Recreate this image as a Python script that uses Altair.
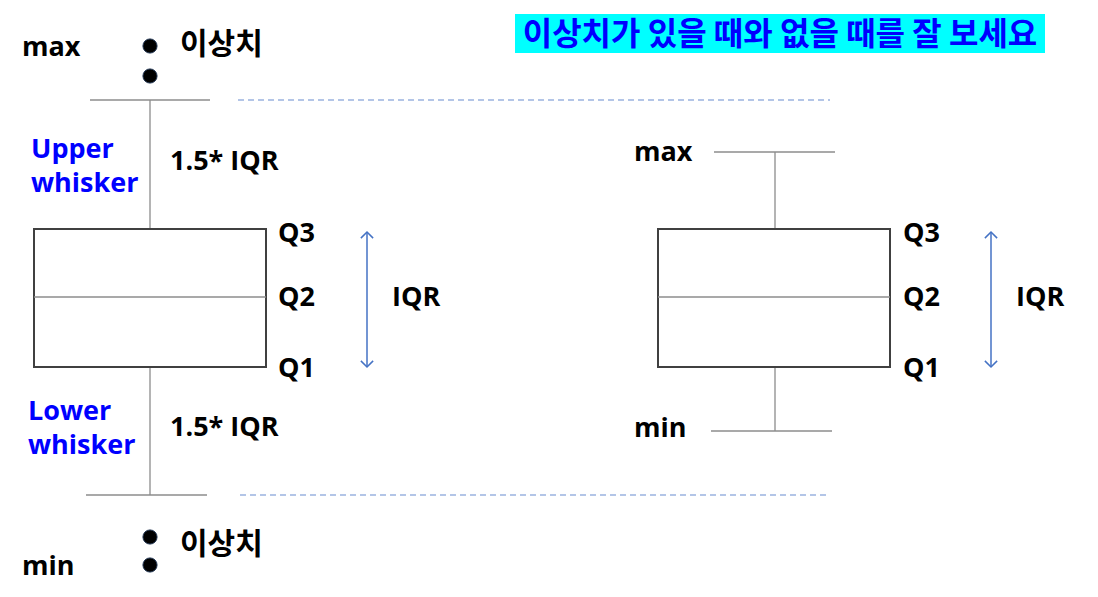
import altair as alt
import pandas as pd

W, H = 1082, 581
XD = [8, 1090]
YD = [8, 589]

# ---- boxes (left: with outliers, right: without outliers) ----
box_left = [34, 658]
box_right = [266, 890]
q1 = [367, 367]
q2 = [297, 297]
q3 = [229, 229]
whisker_x = [150, 775]
upper_end = [100, 152]
lower_end = [495, 431]
upper_cap_l = [90, 714]
upper_cap_r = [210, 835]
lower_cap_l = [86, 711]
lower_cap_r = [207, 832]

# ---- outliers ----
outlier_x = [150, 150, 150, 150]
outlier_y = [46, 76, 537, 565]

# ---- dashed guide lines ----
dash_y = [100, 495]
dash_x1 = [238, 240]
dash_x2 = [830, 830]

# ---- IQR arrows ----
arrow_x = [367, 991]
arrow_top = [232, 232]
arrow_bottom = [367, 367]

# ---- title box ----
title_text = ["이상치가 있을 때와 없을 때를 잘 보세요"]
title_x1, title_x2, title_y1, title_y2 = [515], [1045], [14], [53]

# ---- labels ----
black_labels = ["max", "1.5* IQR", "Q3", "Q2", "Q1", "IQR", "1.5* IQR", "min",
                "max", "Q3", "Q2", "Q1", "IQR", "min"]
black_x = [22, 170, 278, 278, 278, 392, 170, 22,
           634, 903, 903, 903, 1016, 634]
black_y = [48, 162, 234, 298, 369, 298, 428, 567,
           153, 234, 298, 369, 298, 429]
blue_labels = ["Upper", "whisker", "Lower", "whisker"]
blue_x = [31, 31, 28, 28]
blue_y = [150, 184, 412, 446]
kor_labels = ["이상치", "이상치"]
kor_x = [180, 180]
kor_y = [45, 545]

xs = alt.Scale(domain=XD, nice=False, zero=False)
ys = alt.Scale(domain=YD, nice=False, zero=False, reverse=True)

def X(f):
    return alt.X(f, type="quantitative", scale=xs, axis=None)

def Y(f):
    return alt.Y(f, type="quantitative", scale=ys, axis=None)

boxes = pd.DataFrame({"l": box_left, "r": box_right, "q1": q1, "q3": q3})
box_layer = alt.Chart(boxes).mark_rect(fill="white", stroke="#404040", strokeWidth=2).encode(
    x=X("l"), x2="r", y=Y("q3"), y2="q1")

med = pd.DataFrame({"l": box_left, "r": box_right, "y": q2})
med_layer = alt.Chart(med).mark_rule(color="#8c8c8c", strokeWidth=1.3).encode(
    x=X("l"), x2="r", y=Y("y"))

whisk = pd.DataFrame({
    "x": whisker_x * 2,
    "y1": q3 + q1,
    "y2": upper_end + lower_end,
})
whisk_layer = alt.Chart(whisk).mark_rule(color="#8c8c8c", strokeWidth=1.3).encode(
    x=X("x"), y=Y("y1"), y2="y2")

caps = pd.DataFrame({
    "l": upper_cap_l + lower_cap_l,
    "r": upper_cap_r + lower_cap_r,
    "y": upper_end + lower_end,
})
cap_layer = alt.Chart(caps).mark_rule(color="#8c8c8c", strokeWidth=1.3).encode(
    x=X("l"), x2="r", y=Y("y"))

dashes = pd.DataFrame({"l": dash_x1, "r": dash_x2, "y": dash_y})
dash_layer = alt.Chart(dashes).mark_rule(color="#9bb3df", strokeWidth=1.4, strokeDash=[6, 4]).encode(
    x=X("l"), x2="r", y=Y("y"))

arrows = pd.DataFrame({"x": arrow_x, "t": arrow_top, "b": arrow_bottom})
arrow_line = alt.Chart(arrows).mark_rule(color="#4472c4", strokeWidth=1.5).encode(
    x=X("x"), y=Y("t"), y2="b")
arrow_up = alt.Chart(arrows).mark_point(
    shape="M -1 1 L 0 0 L 1 1", filled=False, color="#4472c4", strokeWidth=1.5,
    size=150, opacity=1).encode(x=X("x"), y=Y("t"))
arrow_down = alt.Chart(arrows).mark_point(
    shape="M -1 -1 L 0 0 L 1 -1", filled=False, color="#4472c4", strokeWidth=1.5,
    size=150, opacity=1).encode(x=X("x"), y=Y("b"))

outl = pd.DataFrame({"x": outlier_x, "y": outlier_y})
out_layer = alt.Chart(outl).mark_circle(color="#000000", size=200, opacity=1,
                                         stroke="#1f3350", strokeWidth=1).encode(
    x=X("x"), y=Y("y"))

tbox = pd.DataFrame({"x1": title_x1, "x2": title_x2, "y1": title_y1, "y2": title_y2})
tbox_layer = alt.Chart(tbox).mark_rect(color="#00ffff").encode(
    x=X("x1"), x2="x2", y=Y("y1"), y2="y2")
ttext = pd.DataFrame({"t": title_text, "x": [(title_x1[0] + title_x2[0]) / 2],
                      "y": [(title_y1[0] + title_y2[0]) / 2 + 1]})
ttext_layer = alt.Chart(ttext).mark_text(
    font="Noto Sans CJK KR", fontSize=32, fontWeight="bold", color="#0000ff",
    align="center", baseline="middle").encode(x=X("x"), y=Y("y"), text="t:N")

blk = pd.DataFrame({"t": black_labels, "x": black_x, "y": black_y})
blk_layer = alt.Chart(blk).mark_text(
    font="Open Sans", fontSize=27, fontWeight="bold", color="#000000",
    align="left", baseline="middle").encode(x=X("x"), y=Y("y"), text="t:N")

blu = pd.DataFrame({"t": blue_labels, "x": blue_x, "y": blue_y})
blu_layer = alt.Chart(blu).mark_text(
    font="Open Sans", fontSize=27, fontWeight="bold", color="#0000ff",
    align="left", baseline="middle").encode(x=X("x"), y=Y("y"), text="t:N")

kor = pd.DataFrame({"t": kor_labels, "x": kor_x, "y": kor_y})
kor_layer = alt.Chart(kor).mark_text(
    font="Noto Sans CJK KR", fontSize=30, fontWeight="bold", color="#000000",
    align="left", baseline="middle").encode(x=X("x"), y=Y("y"), text="t:N")

chart = alt.layer(
    tbox_layer, dash_layer, whisk_layer, cap_layer, box_layer, med_layer,
    arrow_line, arrow_up, arrow_down, out_layer,
    ttext_layer, blk_layer, blu_layer, kor_layer,
).properties(
    width=W, height=H, padding=0, autosize="none", background="white"
).configure_view(stroke=None)

chart.save("out.html", embed_options={"renderer": "svg", "actions": False})
